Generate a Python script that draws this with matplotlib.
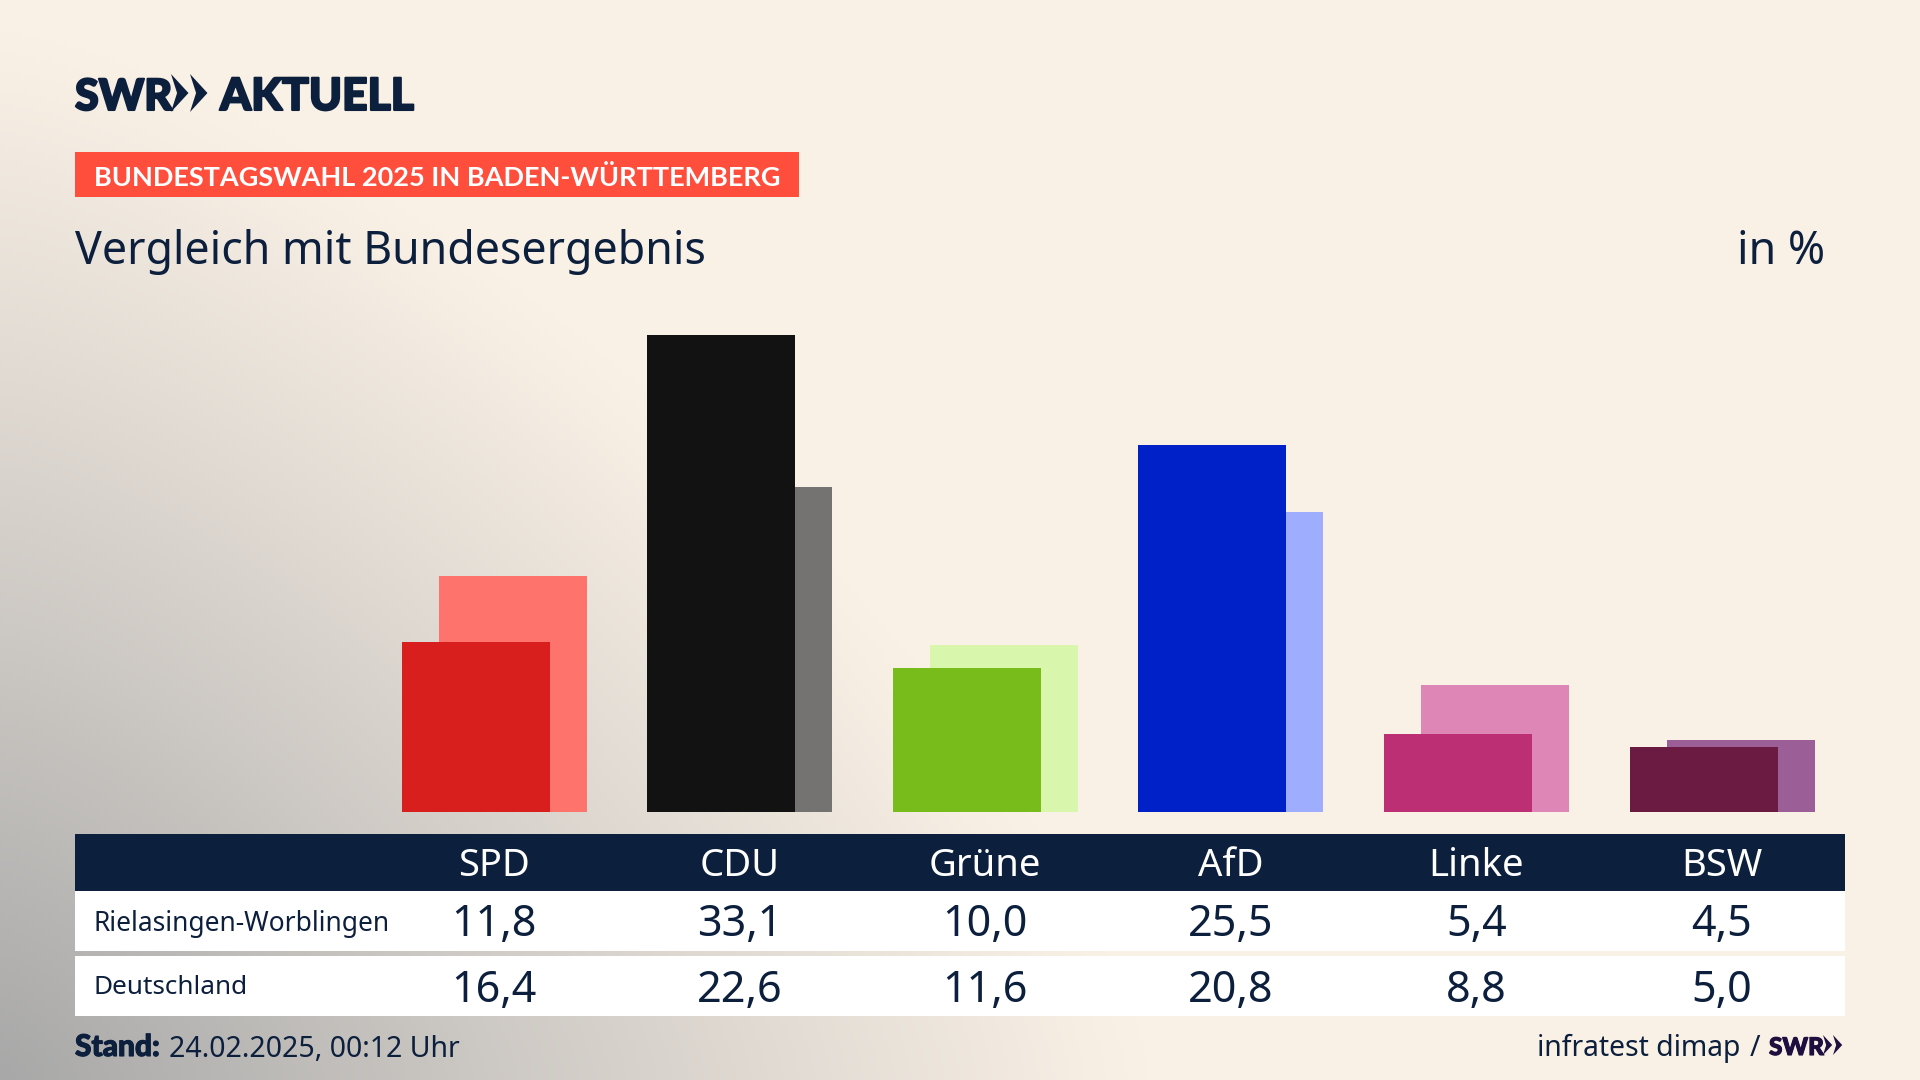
import numpy as np
import matplotlib
matplotlib.use('Agg')
import matplotlib.pyplot as plt
import matplotlib.patheffects as pe
from matplotlib.patches import Rectangle, Polygon

parties = ['SPD', 'CDU', 'Grüne', 'AfD', 'Linke', 'BSW']
local_values = [11.8, 33.1, 10.0, 25.5, 5.4, 4.5]
national_values = [16.4, 22.6, 11.6, 20.8, 8.8, 5.0]
local_labels = ['11,8', '33,1', '10,0', '25,5', '5,4', '4,5']
national_labels = ['16,4', '22,6', '11,6', '20,8', '8,8', '5,0']
local_colors = ['#D81F1E', '#121212', '#78BC1B', '#0021C8', '#BC2F74', '#6B1A42']
national_colors = ['#FF736D', '#747371', '#D9F7AC', '#9FADFF', '#DE86B5', '#9B5E96']

NAVY = '#0C1F3D'
FONT = 'Noto Sans'
BOLD = 'Lato'

W, H = 1920, 1080
fig = plt.figure(figsize=(W / 100, H / 100), dpi=100)

# full figure axes in pixel coordinates, for background, header and table
bg = fig.add_axes([0, 0, 1, 1])
bg.set_xlim(0, W)
bg.set_ylim(H, 0)
bg.axis('off')

# cream background, grey glow out of the bottom left corner
xx, yy = np.meshgrid(np.linspace(0, W, 480), np.linspace(0, H, 270))
dist = ((xx / 1150) ** 1.4 + ((H - yy) / 1050) ** 1.4) ** (1 / 1.4)
t = np.clip(1 - dist, 0, 1) ** 1.05
cream = np.array([250, 241, 230]) / 255
grey = np.array([168, 168, 168]) / 255
img = cream + (grey - cream) * t[..., None]
bg.imshow(img, extent=[0, W, H, 0], aspect='auto', zorder=0)


def chevrons(x, y, h, color):
    # the two SWR arrows, x/y = top left corner
    for k in (0, 0.5):
        px = x + k * h
        pts = [(px, y), (px + 0.46 * h, y + 0.5 * h), (px, y + h), (px + 0.16 * h, y + 0.5 * h)]
        bg.add_patch(Polygon(pts, closed=True, color=color, lw=0, zorder=3))


def thick(width, color):
    return [pe.withStroke(linewidth=width, foreground=color)]


# logo
bg.text(75, 110, 'SWR', family=BOLD, weight='black', fontsize=31, color=NAVY,
        va='baseline', ha='left', path_effects=thick(1.5, NAVY))
chevrons(171, 74, 38, NAVY)
bg.text(220, 110, 'AKTUELL', family=BOLD, weight='black', fontsize=32, color=NAVY,
        va='baseline', ha='left', path_effects=thick(1.5, NAVY))

# red label and title row
bg.add_patch(Rectangle((75, 152), 724, 45, color='#FF4E3C', lw=0, zorder=2))
bg.text(94, 175, 'BUNDESTAGSWAHL 2025 IN BADEN-WÜRTTEMBERG', family=BOLD, weight='bold',
        fontsize=19.5, color='white', va='center_baseline', ha='left', zorder=3)
bg.text(75, 264, 'Vergleich mit Bundesergebnis', family=FONT, fontsize=32.2,
        color=NAVY, va='baseline', ha='left')
bg.text(1825, 264, 'in %', family=FONT, fontsize=32.2, color=NAVY, va='baseline', ha='right')

# bars: centres are 245.6 px apart, first one at x=494, baseline at y=812, 14.4 px per percent
ax = fig.add_axes([401.6 / W, (H - 812) / H, 1443 / W, 504 / H])
ax.patch.set_alpha(0)
ax.set_xlim(-92 / 245.6, (1845 - 494) / 245.6)
ax.set_ylim(0, 35)
ax.axis('off')
pos = np.arange(len(parties))
ax.bar(pos + 19 / 245.6, national_values, width=148 / 245.6, color=national_colors, linewidth=0)
ax.bar(pos - 18 / 245.6, local_values, width=148 / 245.6, color=local_colors, linewidth=0)

# table
col_x = 494 + 245.6 * pos
bg.add_patch(Rectangle((75, 834), 1770, 57, color=NAVY, lw=0, zorder=2))
bg.add_patch(Rectangle((75, 891), 1770, 60, color='white', lw=0, zorder=2))
bg.add_patch(Rectangle((75, 956), 1770, 60, color='white', lw=0, zorder=2))
for cx, name, loc, nat in zip(col_x, parties, local_labels, national_labels):
    bg.text(cx, 862, name, family=FONT, fontsize=27.5, color='white', ha='center',
            va='center_baseline', zorder=3)
    bg.text(cx, 920, loc, family=FONT, fontsize=31, color=NAVY, ha='center',
            va='center_baseline', zorder=3)
    bg.text(cx, 985, nat, family=FONT, fontsize=31, color=NAVY, ha='center',
            va='center_baseline', zorder=3)
bg.text(94, 920, 'Rielasingen-Worblingen', family=FONT, fontsize=19, color=NAVY,
        va='center_baseline', zorder=3)
bg.text(94, 985, 'Deutschland', family=FONT, fontsize=18.8, color=NAVY,
        va='center_baseline', zorder=3)

# footer
bg.text(75, 1056, 'Stand:', family=BOLD, weight='black', fontsize=21.5, color=NAVY,
        va='baseline', path_effects=thick(0.8, NAVY))
bg.text(169, 1057, '24.02.2025, 00:12 Uhr', family=FONT, fontsize=20.5, color=NAVY, va='baseline')
bg.text(1740, 1056, 'infratest dimap', family=FONT, fontsize=20.4, color=NAVY,
        va='baseline', ha='right')
bg.text(1760, 1056, '/', family=FONT, fontsize=20.4, color=NAVY, va='baseline', ha='right')
bg.text(1769, 1055, 'SWR', family=BOLD, weight='black', fontsize=17.5, color='#1F0F3F',
        va='baseline', path_effects=thick(0.8, '#1F0F3F'))
chevrons(1823, 1035, 20, '#1F0F3F')

fig.savefig('out.png', dpi=100)
